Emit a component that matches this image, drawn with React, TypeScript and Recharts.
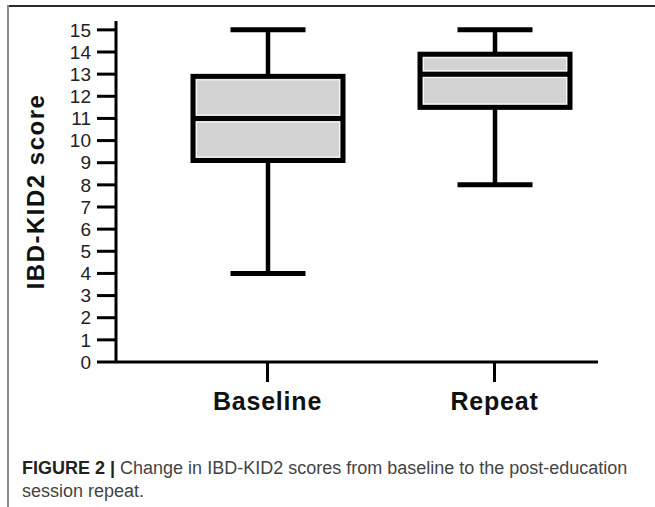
import React from 'react';
import { ComposedChart, Bar, XAxis, YAxis } from 'recharts';

const categories = ['Baseline', 'Repeat'];
const minValues = [4, 8];
const q1Values = [9.1, 11.5];
const medianValues = [11, 13];
const q3Values = [12.9, 13.9];
const maxValues = [15, 15];
const yTicks = [0, 1, 2, 3, 4, 5, 6, 7, 8, 9, 10, 11, 12, 13, 14, 15];

const data = categories.map((name, i) => ({
  name,
  range: [minValues[i], maxValues[i]],
  min: minValues[i],
  q1: q1Values[i],
  median: medianValues[i],
  q3: q3Values[i],
  max: maxValues[i],
}));

const FONT = '"Liberation Sans", Arial, Helvetica, sans-serif';

const BoxShape = (props: any) => {
  const { x, y, width, height, payload } = props;
  if (!payload || height == null) return null;
  const { min, q1, median, q3, max } = payload;
  const unit = height / (max - min);
  const yOf = (v: number) => y + (max - v) * unit;
  const cx = x + width / 2;
  const capW = width / 2;
  const yMax = yOf(max);
  const yMin = yOf(min);
  const yQ1 = yOf(q1);
  const yQ3 = yOf(q3);
  const yMed = yOf(median);
  const sw = 5;
  const inset = sw / 2 + 1;
  return (
    <g>
      <line x1={cx} x2={cx} y1={yMax} y2={yQ3} stroke="#000" strokeWidth={4.5} />
      <line x1={cx} x2={cx} y1={yQ1} y2={yMin} stroke="#000" strokeWidth={4.5} />
      <line x1={cx - capW / 2} x2={cx + capW / 2} y1={yMax} y2={yMax} stroke="#000" strokeWidth={5} />
      <line x1={cx - capW / 2} x2={cx + capW / 2} y1={yMin} y2={yMin} stroke="#000" strokeWidth={5} />
      <rect x={x} y={yQ3} width={width} height={yQ1 - yQ3} fill="#d3d3d3" stroke="#000" strokeWidth={sw} />
      <rect
        x={x + inset}
        y={yQ3 + inset}
        width={width - 2 * inset}
        height={yMed - yQ3 - 2 * inset}
        fill="none"
        stroke="#fff"
        strokeWidth={1}
        opacity={0.85}
      />
      <rect
        x={x + inset}
        y={yMed + inset}
        width={width - 2 * inset}
        height={yQ1 - yMed - 2 * inset}
        fill="none"
        stroke="#fff"
        strokeWidth={1}
        opacity={0.85}
      />
      <line x1={x} x2={x + width} y1={yMed} y2={yMed} stroke="#000" strokeWidth={5} />
    </g>
  );
};

const YLabel = (props: any) => {
  const vb = props.viewBox || {};
  const cy = (vb.y || 0) + (vb.height || 0) / 2;
  const cx = 35;
  return (
    <text
      x={cx}
      y={cy}
      transform={`rotate(-90, ${cx}, ${cy})`}
      textAnchor="middle"
      dominantBaseline="central"
      fontFamily={FONT}
      fontSize={24}
      fontWeight="bold"
      letterSpacing={1.5}
      fill="#111"
    >
      IBD-KID2 score
    </text>
  );
};

export default function App() {
  return (
    <div style={{ position: 'absolute', left: 0, top: 0, width: 655, height: 507, background: '#fff', overflow: 'hidden' }}>
      <div style={{ position: 'absolute', left: 7, top: 5, width: 648, height: 2, background: '#2a2a2a' }} />
      <div style={{ position: 'absolute', left: 7, top: 5, width: 2, height: 502, background: '#8a8a8a' }} />
      <div style={{ position: 'absolute', left: 0, top: 0 }}>
        <ComposedChart
          width={655}
          height={507}
          data={data}
          margin={{ top: 21, right: 57, bottom: 85, left: 0 }}
        >
          <XAxis
            dataKey="name"
            type="category"
            height={60}
            padding={{ left: 38, right: -10 }}
            axisLine={{ stroke: '#000', strokeWidth: 3 }}
            tickLine={{ stroke: '#000', strokeWidth: 3 }}
            tickSize={20}
            tickMargin={10}
            tick={{ fontSize: 25, fontWeight: 'bold', fill: '#111', fontFamily: FONT, letterSpacing: 0.8 }}
            interval={0}
          />
          <YAxis
            type="number"
            domain={[0, 15.4]}
            ticks={yTicks}
            interval={0}
            width={116}
            axisLine={{ stroke: '#000', strokeWidth: 3 }}
            tickLine={{ stroke: '#000', strokeWidth: 3 }}
            tickSize={19}
            tickMargin={6}
            tick={{ fontSize: 19, fill: '#222', fontFamily: FONT }}
            label={<YLabel />}
          />
          <Bar dataKey="range" barSize={150} shape={BoxShape} isAnimationActive={false} />
        </ComposedChart>
      </div>
      <div
        style={{
          position: 'absolute',
          left: 22,
          top: 457,
          fontFamily: FONT,
          fontSize: 18,
          lineHeight: '23px',
          color: '#444',
          whiteSpace: 'nowrap',
        }}
      >
        <span style={{ fontWeight: 'bold', color: '#222' }}>FIGURE 2 | </span>
        Change in IBD-KID2 scores from baseline to the post-education
        <br />
        session repeat.
      </div>
    </div>
  );
}
